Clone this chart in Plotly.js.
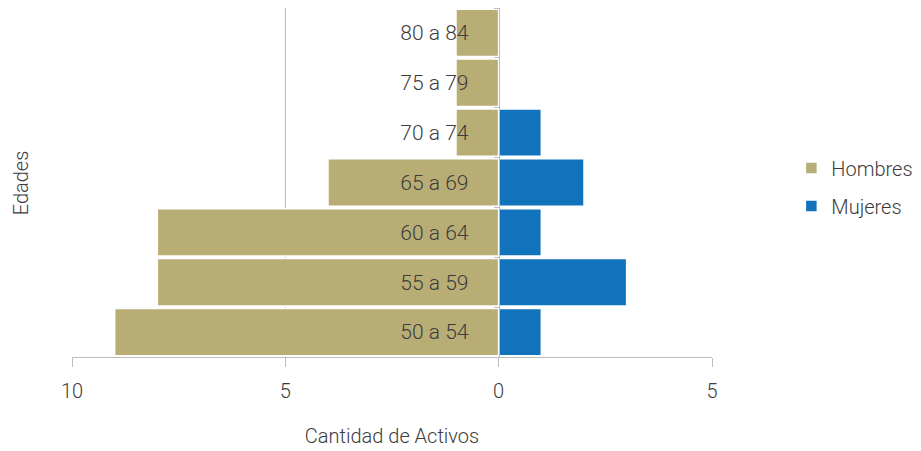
<!DOCTYPE html>
<html>
<head>
<meta charset="utf-8">
<script src="https://cdn.plot.ly/plotly-3.0.1.min.js"></script>
<style>html,body{margin:0;padding:0;background:#fff;}#chart{width:921px;height:451px;}</style>
</head>
<body>
<div id="chart"></div>
<script>
const categories = ['50 a 54', '55 a 59', '60 a 64', '65 a 69', '70 a 74', '75 a 79', '80 a 84'];
const hombres = [9, 8, 8, 4, 1, 1, 1];
const mujeres = [1, 3, 1, 2, 1, 0, 0];
const xTickVals = [-10, -5, 0, 5];
const xTickText = ['10', '5', '0', '5'];

const textColor = '#3c3c3c';
const gridColor = '#bdbdbd';
const fontFamily = 'Roboto, "Open Sans", sans-serif';
const fs = 21;

const traces = [
  {
    type: 'bar', orientation: 'h', name: 'Hombres', legendgroup: 'h',
    y: categories, x: hombres.map(v => -v),
    marker: {color: '#b9ad76', line: {color: '#ffffff', width: 1.5}},
    hoverinfo: 'skip'
  },
  {
    type: 'bar', orientation: 'h', name: 'Mujeres', legendgroup: 'm',
    y: categories, x: mujeres,
    marker: {color: '#1173bc', line: {color: '#ffffff', width: 1.5}},
    hoverinfo: 'skip'
  }
];

const layout = {
  width: 921, height: 451,
  margin: {l: 72, r: 209, t: 8, b: 94, autoexpand: false},
  paper_bgcolor: '#ffffff', plot_bgcolor: '#ffffff',
  font: {family: fontFamily, size: fs, color: textColor, weight: 300},
  barmode: 'relative',
  bargap: 0.05,
  showlegend: true,
  legend: {x: 1.124, y: 0.487, xanchor: 'left', yanchor: 'middle',
           font: {size: fs - 1, color: textColor, family: fontFamily, weight: 300},
           traceorder: 'grouped', itemwidth: 30, tracegroupgap: 9},
  xaxis: {
    range: [-10, 5], tickvals: xTickVals, ticktext: xTickText,
    showgrid: true, gridcolor: gridColor, gridwidth: 1,
    zeroline: false, showline: true, linecolor: gridColor, linewidth: 1,
    ticks: 'outside', ticklen: 9, tickcolor: gridColor,
    ticklabelstandoff: 7,
    tickfont: {size: fs - 1, color: textColor},
    title: {text: 'Cantidad de Activos', font: {size: fs - 1, color: textColor}, standoff: 26},
    fixedrange: true
  },
  yaxis: {
    type: 'category', categoryorder: 'array', categoryarray: categories,
    anchor: 'free', position: 2 / 3, side: 'left',
    showline: true, linecolor: gridColor, linewidth: 1,
    showgrid: false, zeroline: false,
    ticks: 'outside', tickson: 'boundaries', ticklen: 5, tickcolor: gridColor,
    ticklabelstandoff: 26,
    tickfont: {size: fs, color: textColor},
    fixedrange: true
  },
  annotations: [{
    text: 'Edades', xref: 'paper', yref: 'paper', x: -0.08, y: 0.5,
    xanchor: 'center', yanchor: 'middle', textangle: -90, showarrow: false,
    font: {size: fs - 1, color: textColor}
  }]
};

Plotly.newPlot('chart', traces, layout, {displayModeBar: false, staticPlot: true});
</script>
</body>
</html>
